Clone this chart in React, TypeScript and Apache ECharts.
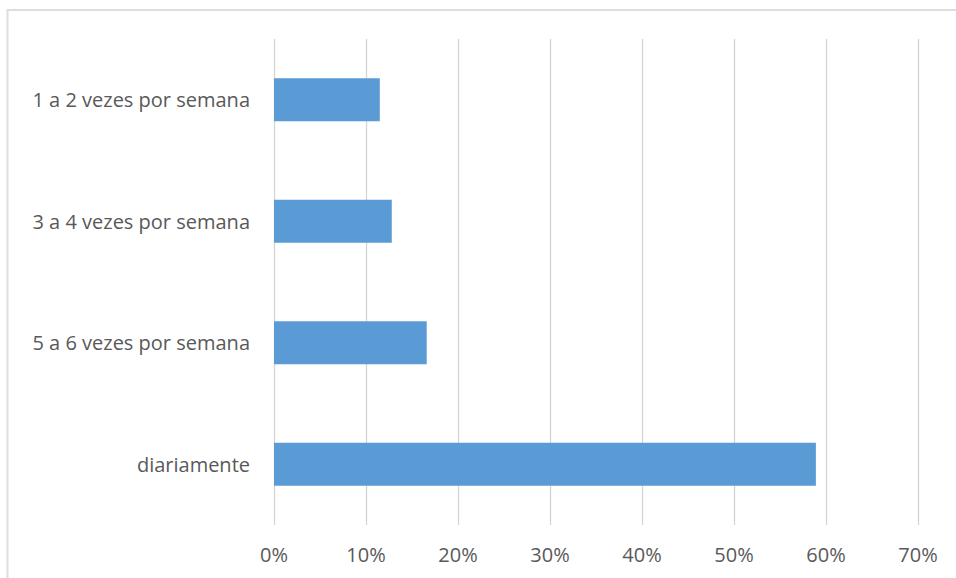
import React, { useEffect, useRef } from "react";
import * as echarts from "echarts";

const categories = [
  "diariamente",
  "5 a 6 vezes por semana",
  "3 a 4 vezes por semana",
  "1 a 2 vezes por semana",
];
const values = [58.9, 16.6, 12.8, 11.5];
const xTicks = { min: 0, max: 70, interval: 10 };

export default function App() {
  const ref = useRef<HTMLDivElement>(null);
  useEffect(() => {
    if (!ref.current) return;
    const chart = echarts.init(ref.current, null, { renderer: "svg" });
    const font = "Open Sans, Noto Sans, sans-serif";
    chart.setOption({
      animation: false,
      backgroundColor: "#ffffff",
      textStyle: { fontFamily: font },
      graphic: [
        {
          type: "rect",
          shape: { x: 7.5, y: 10, width: 960, height: 600 },
          style: { fill: "none", stroke: "#dedede", lineWidth: 2 },
          silent: true,
          z: -1,
        },
      ],
      grid: { left: 274, right: 38, top: 39, bottom: 53, containLabel: false },
      xAxis: {
        type: "value",
        min: xTicks.min,
        max: xTicks.max,
        interval: xTicks.interval,
        axisLine: { show: false },
        axisTick: { show: false },
        splitLine: { show: true, lineStyle: { color: "#d4d4d4", width: 1.3 } },
        axisLabel: {
          formatter: "{value}%",
          color: "#595959",
          fontSize: 20,
          fontFamily: font,
          margin: 19,
        },
      },
      yAxis: {
        type: "category",
        data: categories,
        axisLine: { show: false },
        axisTick: { show: false },
        splitLine: { show: false },
        axisLabel: {
          color: "#595959",
          fontSize: 20,
          fontFamily: font,
          margin: 24,
        },
      },
      series: [
        {
          type: "bar",
          data: values,
          barWidth: 43,
          itemStyle: { color: "#5b9bd5" },
        },
      ],
    });
    return () => chart.dispose();
  }, []);
  return (
    <div
      ref={ref}
      style={{ width: 956, height: 578, position: "absolute", left: 0, top: 0 }}
    />
  );
}
